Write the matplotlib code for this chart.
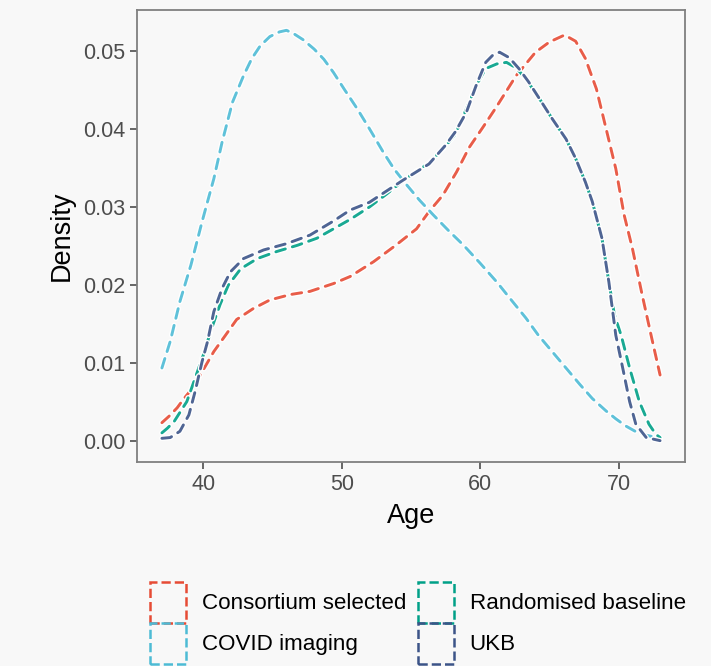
import matplotlib.pyplot as plt
import matplotlib.patheffects as pe
from matplotlib.patches import Patch

plt.rcParams['font.family'] = ['Liberation Sans', 'DejaVu Sans']

# values
consortium_age = [37.0, 37.5, 38.1, 38.6, 39.2, 40.0, 40.75, 41.6, 42.4, 43.6, 44.8, 46.3, 47.7, 49.4,
                  50.6, 52.3, 53.9, 55.4, 56.3, 57.3, 58.3, 59.2, 60.2, 61.1, 62.6, 64.0, 65.0, 66.1,
                  66.9, 67.6, 68.4, 69.1, 69.8, 70.4, 71.0, 71.7, 72.4, 73.0]
consortium_dens = [0.0024, 0.0032, 0.0043, 0.0055, 0.0068, 0.0092, 0.0115, 0.0136, 0.0156, 0.0170,
                   0.0181, 0.0188, 0.0192, 0.0202, 0.0211, 0.0230, 0.0251, 0.0272, 0.0294, 0.0315,
                   0.0345, 0.0376, 0.0402, 0.0426, 0.0468, 0.0498, 0.0511, 0.0520, 0.0512, 0.0490,
                   0.0451, 0.0400, 0.0349, 0.0290, 0.0247, 0.0188, 0.0132, 0.0085]

covid_age = [37.0, 37.6, 38.3, 39.1, 39.9, 40.3, 40.75, 41.35, 42.1, 42.9, 43.5, 44.1, 44.8, 45.5,
             46.0, 46.5, 47.2, 48.0, 48.7, 49.4, 50.2, 51.1, 52.0, 53.0, 53.8, 54.7, 55.6, 56.6,
             57.7, 58.8, 60.0, 61.2, 62.2, 63.3, 64.2, 65.2, 66.2, 67.2, 68.1, 69.1, 69.8, 70.5,
             71.2, 72.0, 73.0]
covid_dens = [0.0094, 0.0128, 0.0179, 0.0226, 0.0281, 0.0307, 0.0336, 0.0383, 0.0434, 0.0468,
              0.0490, 0.0506, 0.0518, 0.0524, 0.0526, 0.0522, 0.0514, 0.0502, 0.0489, 0.0472,
              0.0450, 0.0426, 0.0400, 0.0370, 0.0348, 0.0328, 0.0309, 0.0290, 0.0270, 0.0251,
              0.0228, 0.0204, 0.0182, 0.0158, 0.0136, 0.0115, 0.0094, 0.0073, 0.0055, 0.0039,
              0.0029, 0.0020, 0.0013, 0.0008, 0.0004]

random_age = [37.0, 37.4, 37.9, 38.8, 39.4, 40.0, 40.6, 41.2, 41.8, 42.7, 43.9, 45.3, 46.8, 48.2,
              49.4, 50.6, 52.0, 53.2, 54.4, 55.4, 56.3, 57.5, 58.2, 58.8, 59.7, 60.4, 61.2, 61.9,
              62.6, 63.3, 64.3, 65.2, 66.2, 66.9, 67.6, 68.1, 68.8, 69.3, 69.7, 70.2, 70.8, 71.5,
              72.2, 72.7, 73.0]
random_dens = [0.0011, 0.0017, 0.0026, 0.0051, 0.0081, 0.0111, 0.0145, 0.0175, 0.0200, 0.0221,
               0.0234, 0.0243, 0.0251, 0.0260, 0.0272, 0.0284, 0.0300, 0.0316, 0.0333, 0.0346,
               0.0356, 0.0378, 0.0393, 0.0417, 0.0455, 0.0477, 0.0483, 0.0485, 0.0478, 0.0464,
               0.0438, 0.0413, 0.0387, 0.0362, 0.0332, 0.0307, 0.0260, 0.0204, 0.0162, 0.0135,
               0.0094, 0.0051, 0.0022, 0.0009, 0.0005]

ukb_age = [37.0, 37.6, 38.3, 38.95, 39.4, 39.9, 40.3, 40.75, 41.35, 41.95, 42.9, 44.35, 46.0, 47.7,
           49.4, 50.6, 52.0, 53.2, 54.4, 55.4, 56.3, 57.5, 58.2, 59.0, 59.7, 60.4, 60.9, 61.4,
           62.1, 62.8, 63.5, 64.3, 65.2, 66.2, 66.9, 67.6, 68.1, 68.8, 69.3, 69.8, 70.3, 70.8,
           71.25, 72.0, 73.0]
ukb_dens = [0.0004, 0.0005, 0.0013, 0.0034, 0.0064, 0.0102, 0.0128, 0.0166, 0.0196, 0.0217,
            0.0234, 0.0245, 0.0253, 0.0264, 0.0282, 0.0296, 0.0306, 0.0320, 0.0334, 0.0345,
            0.0355, 0.0379, 0.0396, 0.0421, 0.0455, 0.0485, 0.0494, 0.0498, 0.0491, 0.0477,
            0.0460, 0.0438, 0.0413, 0.0387, 0.0362, 0.0332, 0.0307, 0.0260, 0.0204, 0.0136,
            0.0094, 0.0051, 0.0022, 0.0005, 0.0001]

labels = ['Consortium selected', 'COVID imaging', 'Randomised baseline', 'UKB']
colors = ['#E64B35', '#4DBBD5', '#00A087', '#3C5488']
series = [(consortium_age, consortium_dens), (covid_age, covid_dens),
          (random_age, random_dens), (ukb_age, ukb_dens)]

bg = '#f8f8f8'
fig = plt.figure(figsize=(7.11, 6.66), dpi=100, facecolor=bg)
ax = fig.add_axes([0.1927, 0.3063, 0.7707, 0.6787], facecolor=bg)

halo = [pe.Stroke(linewidth=4.0, foreground='white'), pe.Normal()]
for (x, y), c in zip(series, colors):
    ax.plot(x, y, color=c, lw=2.1, alpha=0.9, linestyle=(0, (3.4, 2.5)),
            dash_capstyle='round', solid_joinstyle='round', path_effects=halo)

ax.set_xlim(35.2, 74.8)
ax.set_ylim(-0.00263, 0.0552)
ax.set_xticks([40, 50, 60, 70])
ax.set_yticks([0.0, 0.01, 0.02, 0.03, 0.04, 0.05])
ax.set_yticklabels(['0.00', '0.01', '0.02', '0.03', '0.04', '0.05'])
ax.tick_params(colors='#4d4d4d', labelsize=15.5, length=5, width=1.2, labelcolor='#4d4d4d')
for s in ax.spines.values():
    s.set_color('#808080')
    s.set_linewidth(1.3)
ax.set_xlabel('Age', fontsize=19.5, color='black', labelpad=6)
ax.set_ylabel('Density', fontsize=19.5, color='black', labelpad=6)

handles = [Patch(facecolor='none', edgecolor=c, linestyle='--', linewidth=1.8) for c in colors]
fig.legend(handles, labels, loc='upper center', bbox_to_anchor=(418 / 711, 1 - 566 / 666),
           ncol=2, frameon=False, fontsize=16.1, handlelength=1.6, handleheight=2.45,
           labelspacing=0.0, columnspacing=0.55, handletextpad=0.7, borderpad=0.2)

fig.savefig('out.png', dpi=100, facecolor=bg)
